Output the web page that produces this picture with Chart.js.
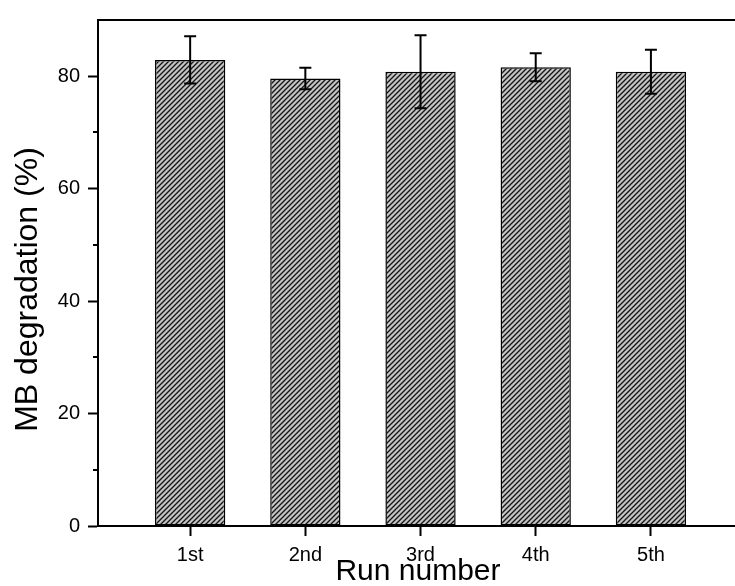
<!DOCTYPE html>
<html>
<head>
<meta charset="utf-8">
<script src="https://cdn.jsdelivr.net/npm/chart.js@4/dist/chart.umd.min.js"></script>
<style>
  html, body { margin: 0; padding: 0; background: #ffffff; }
  #wrap { width: 735px; height: 586px; }
</style>
</head>
<body>
<div id="wrap"><canvas id="c" width="735" height="586"></canvas></div>
<script>
// Run labels and their positions on the x axis
const runLabels = ['1st', '2nd', '3rd', '4th', '5th'];
const runIndex = [1, 2, 3, 4, 5];
// MB degradation per run (%) and its standard deviation
const degradation = [82.9, 79.6, 80.8, 81.6, 80.8];
const errors = [4.2, 1.9, 6.5, 2.5, 3.9];
// y axis ticks
const yMajorTicks = [0, 20, 40, 60, 80];
const yMinorTicks = [10, 30, 50, 70];

const FONT = '"Liberation Sans", Arial, Helvetica, sans-serif';

// Diagonal hatch fill for the bars
function makeHatch() {
  const s = 5;
  const p = document.createElement('canvas');
  p.width = s; p.height = s;
  const g = p.getContext('2d');
  g.fillStyle = '#c4c4c4';
  g.fillRect(0, 0, s, s);
  g.strokeStyle = '#151515';
  g.lineWidth = 1.35;
  g.beginPath();
  g.moveTo(-1, s + 1); g.lineTo(s + 1, -1);
  g.moveTo(-1, 1); g.lineTo(1, -1);
  g.moveTo(s - 1, s + 1); g.lineTo(s + 1, s - 1);
  g.stroke();
  return g.createPattern(p, 'repeat');
}

// Error bars, minor ticks, top frame line and axis titles
const decorations = {
  id: 'decorations',
  afterDatasetsDraw(chart) {
    const { ctx, scales: { x, y } } = chart;
    ctx.save();
    ctx.strokeStyle = '#000';
    ctx.lineWidth = 2;
    const cap = 6;
    runIndex.forEach((v, i) => {
      const px = x.getPixelForValue(v);
      const top = y.getPixelForValue(degradation[i] + errors[i]);
      const bot = y.getPixelForValue(degradation[i] - errors[i]);
      ctx.beginPath();
      ctx.moveTo(px, top); ctx.lineTo(px, bot);
      ctx.moveTo(px - cap, top); ctx.lineTo(px + cap, top);
      ctx.moveTo(px - cap, bot); ctx.lineTo(px + cap, bot);
      ctx.stroke();
    });
    ctx.restore();
  },
  afterDraw(chart) {
    const { ctx, chartArea, scales: { y } } = chart;
    ctx.save();
    ctx.strokeStyle = '#000';
    ctx.lineWidth = 2;
    // minor ticks on the y axis
    ctx.beginPath();
    yMinorTicks.forEach(v => {
      const py = Math.round(y.getPixelForValue(v));
      ctx.moveTo(chartArea.left - 5, py);
      ctx.lineTo(chartArea.left, py);
    });
    // top frame line
    ctx.moveTo(chartArea.left - 1, chartArea.top);
    ctx.lineTo(chartArea.right, chartArea.top);
    ctx.stroke();

    // axis titles
    ctx.fillStyle = '#000';
    ctx.textAlign = 'center';
    ctx.textBaseline = 'alphabetic';
    ctx.font = '30px ' + FONT;
    ctx.fillText('Run number', 418, 580);

    ctx.translate(37, 289.5);
    ctx.rotate(-Math.PI / 2);
    ctx.font = '32px ' + FONT;
    ctx.fillText('MB degradation (%)', 0, 0);
    ctx.restore();
  }
};

new Chart(document.getElementById('c'), {
  type: 'bar',
  data: {
    datasets: [{
      data: runIndex.map((v, i) => ({ x: v, y: degradation[i] })),
      backgroundColor: makeHatch(),
      borderColor: '#000',
      borderWidth: 1.5,
      borderSkipped: false,
      barPercentage: 0.61,
      categoryPercentage: 1
    }]
  },
  plugins: [decorations],
  options: {
    responsive: false,
    devicePixelRatio: 1,
    animation: false,
    layout: { padding: { top: 11, right: 0, bottom: 0, left: 0 } },
    plugins: { legend: { display: false }, tooltip: { enabled: false } },
    scales: {
      x: {
        type: 'linear',
        position: 'bottom',
        offset: false,
        min: 0.2,
        max: 5.73,
        afterFit: s => { s.height = 60; },
        afterBuildTicks: s => { s.ticks = runIndex.map(v => ({ value: v })); },
        ticks: {
          callback: v => runLabels[runIndex.indexOf(v)],
          color: '#000',
          font: { family: FONT, size: 20 },
          padding: 7,
          maxRotation: 0,
          autoSkip: false
        },
        grid: { display: true, offset: false, drawOnChartArea: false, tickLength: 10, tickWidth: 2, tickColor: '#000' },
        border: { display: true, color: '#000', width: 2 }
      },
      y: {
        min: 0,
        max: 90,
        afterFit: s => { s.width = 98; },
        afterBuildTicks: s => { s.ticks = yMajorTicks.map(v => ({ value: v })); },
        ticks: {
          color: '#000',
          font: { family: FONT, size: 20 },
          padding: 8
        },
        grid: { display: true, drawOnChartArea: false, tickLength: 10, tickWidth: 2, tickColor: '#000' },
        border: { display: true, color: '#000', width: 2 }
      }
    }
  }
});
</script>
</body>
</html>
